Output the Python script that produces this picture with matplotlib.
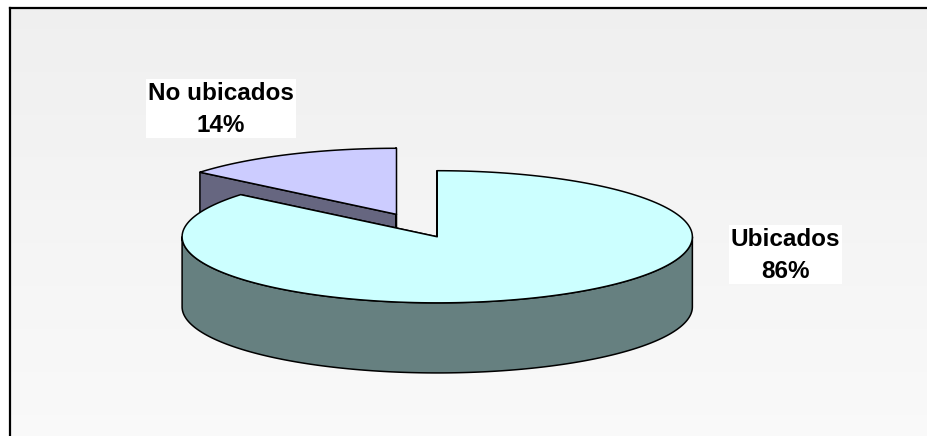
import numpy as np
import matplotlib.pyplot as plt
from matplotlib.patches import Polygon, Rectangle
from matplotlib.colors import LinearSegmentedColormap

labels = ['Ubicados', 'No ubicados']
values = [86, 14]
top_colors = ['#CCFFFF', '#CCCCFF']
side_colors = ['#668080', '#666680']
explode = [0.0, 0.375]
label_pos = [(785, 255), (221, 109)]

W, H = 927, 436
# the extra half pixel keeps int(w * dpi) from rounding down to 926
fig = plt.figure(figsize=((W + 0.5) / 100, (H + 0.5) / 100), dpi=100)
ax = fig.add_axes([0, 0, 1, 1])
ax.set_xlim(0, W)
ax.set_ylim(H, 0)
ax.axis('off')

# background of the chart area (soft vertical gradient) and its frame
bg = LinearSegmentedColormap.from_list('bg', ['#efefef', '#f9f9f9'])
n_bands = 60
edges = np.linspace(8, H, n_bands + 1)
for k in range(n_bands):
    ax.add_patch(Rectangle((10, edges[k]), W, edges[k + 1] - edges[k] + 0.5,
                           fc=bg(k / (n_bands - 1)), ec='none', zorder=0))
ax.plot([10, 10], [H + 5, 8], color='black', lw=1.6, zorder=1, solid_capstyle='projecting')
ax.plot([10, W + 5], [8, 8], color='black', lw=1.6, zorder=1, solid_capstyle='projecting')

# 3d pie geometry (pixel units)
cx, cy = 437, 237
a, b = 255, 66
depth = 70
start = 90.0


def pt(t, dx, dy, dz=0.0):
    r = np.radians(t)
    return cx + dx + a * np.cos(r), cy + dy - b * np.sin(r) + dz


def arc(t0, t1, dx, dy, dz=0.0, n=200):
    ts = np.linspace(t0, t1, n)
    return [pt(t, dx, dy, dz) for t in ts]


total = float(sum(values))
slices = []
ang = start
for i, v in enumerate(values):
    sweep = 360.0 * v / total
    t0, t1 = ang, ang - sweep  # clockwise
    mid = (t0 + t1) / 2
    r = np.radians(mid)
    dx = explode[i] * a * np.cos(r)
    dy = -explode[i] * b * np.sin(r)
    slices.append((i, t0, t1, mid, dx, dy))
    ang = t1

# back slices first
slices.sort(key=lambda s: -np.sin(np.radians(s[3])))

lw = 1.1
z = 2
for i, t0, t1, mid, dx, dy in slices:
    ctop = (cx + dx, cy + dy)
    cbot = (cx + dx, cy + dy + depth)
    # radial faces
    for t in (t0, t1):
        poly = [ctop, pt(t, dx, dy), pt(t, dx, dy, depth), cbot]
        ax.add_patch(Polygon(poly, closed=True, fc=side_colors[i], ec='black',
                             lw=lw, joinstyle='round', zorder=z))
        z += 1
    # outer curved side, front part only
    lo, hi = min(t0, t1), max(t0, t1)
    for k in range(-2, 3):
        f0, f1 = -180 + 360 * k, 0 + 360 * k
        s0, s1 = max(lo, f0), min(hi, f1)
        if s1 > s0:
            poly = arc(s0, s1, dx, dy) + arc(s1, s0, dx, dy, depth)
            ax.add_patch(Polygon(poly, closed=True, fc=side_colors[i], ec='black',
                                 lw=lw, joinstyle='round', zorder=z))
            z += 1
    # top face
    poly = [ctop] + arc(t0, t1, dx, dy)
    ax.add_patch(Polygon(poly, closed=True, fc=top_colors[i], ec='black',
                         lw=lw, joinstyle='round', zorder=z))
    z += 1

# data labels on white boxes
fig.canvas.draw()
inv = ax.transData.inverted()
for i, lab in enumerate(labels):
    pct = values[i] / total * 100
    x, y = label_pos[i]
    t = ax.text(x, y, f'{lab}\n{pct:.0f}%', ha='center', va='center',
                family='Liberation Sans', weight='bold', fontsize=17.5,
                linespacing=1.5, zorder=51)
    bb = t.get_window_extent(renderer=fig.canvas.get_renderer())
    (x0, y1), (x1, y0) = inv.transform([(bb.x0, bb.y0), (bb.x1, bb.y1)])
    ax.add_patch(Rectangle((x0 - 2, y0 - 2), x1 - x0 + 4, y1 - y0 + 4,
                           fc='white', ec='none', zorder=50))

fig.savefig('out.png', dpi=100)
